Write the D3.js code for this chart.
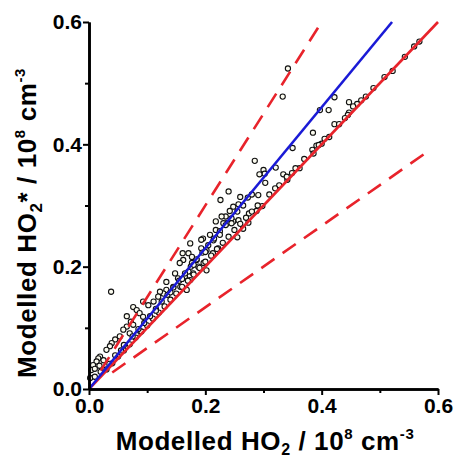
<!DOCTYPE html>
<html><head><meta charset="utf-8">
<script src="https://cdn.jsdelivr.net/npm/d3@7"></script>
<style>body{margin:0;background:#fff}svg{display:block}text{font-family:"Liberation Sans",Arial,sans-serif;font-weight:bold}</style>
</head><body>
<svg id="c" width="455" height="458"></svg>
<script>
// Data (units of 1e8 cm^-3)
const xTicks = [0.0, 0.2, 0.4, 0.6];
const yTicks = [0.0, 0.2, 0.4, 0.6];
const minorTicks = [0.1, 0.3, 0.5];
const pointsX = [0.568,0.559,0.543,0.522,0.508,0.489,0.476,0.468,0.461,0.454,0.447,0.445,0.440,
 0.447,0.422,0.422,0.412,0.397,0.385,0.413,0.400,0.391,0.384,0.386,0.350,0.349,0.342,0.333,0.334,0.321,0.327,0.362,0.341,
 0.285,0.300,0.302,0.293,0.303,0.291,0.298,0.288,0.275,0.274,0.265,0.255,
 0.240,0.226,0.260,0.273,0.257,0.248,0.242,0.235,0.228,0.237,0.231,0.248,0.257,0.218,0.218,0.208,0.214,0.196,0.193,
 0.193,0.202,0.213,0.222,
 0.174,0.171,0.177,0.185,0.177,0.188,0.197,0.202,0.161,0.162,0.156,
 0.148,0.153,0.165,0.174,0.179,0.171,0.133,0.145,0.157,0.168,0.133,0.128,0.122,0.119,0.111,0.102,0.093,0.076,0.082,0.087,0.093,
 0.065,0.072,0.076,0.065,0.059,0.070,0.082,0.053,0.045,0.039,0.036,0.030,0.019,0.016,0.013,0.007,0.004,0.002,0.025,0.018,0.010,
 0.038,
 0.030,0.040,0.050,0.060,0.070,0.080,0.090,0.100,0.110,0.120,0.130,0.140,0.150,0.160,0.170,0.180,0.190,0.200,0.210,0.220,0.230,0.240,0.250,0.260,0.270,0.280,0.290,0.310,0.320,0.340,0.355,0.370,0.395,0.405,0.430,
 0.035,0.055,0.075,0.095,0.105,0.115,0.125,0.135,0.145,0.155,0.165,0.175,0.185,0.195,0.205,0.215,0.225,0.235,0.245,0.255,0.265,0.280,
 0.010,0.020,0.045,0.060,0.085,0.115,0.140,0.160,0.180,0.200,0.225,0.245];
const pointsY = [0.568,0.560,0.543,0.520,0.510,0.492,0.478,0.472,0.466,0.462,0.452,0.448,0.443,
 0.469,0.477,0.433,0.456,0.456,0.419,0.412,0.401,0.398,0.391,0.385,0.394,0.353,0.524,0.478,0.351,0.362,0.333,0.361,0.342,
 0.373,0.358,0.352,0.351,0.337,0.317,0.299,0.291,0.287,0.272,0.262,0.248,
 0.323,0.309,0.314,0.313,0.302,0.298,0.291,0.282,0.282,0.271,0.271,0.274,0.276,0.274,0.260,0.252,0.243,0.246,0.244,
 0.230,0.227,0.222,0.230,
 0.238,0.222,0.216,0.211,0.206,0.200,0.206,0.194,0.222,0.211,0.206,
 0.189,0.181,0.184,0.178,0.189,0.192,0.175,0.167,0.167,0.162,0.162,0.156,0.159,0.151,0.143,0.137,0.143,0.134,0.129,0.124,0.118,
 0.119,0.110,0.105,0.102,0.097,0.091,0.088,0.086,0.081,0.075,0.070,0.064,0.053,0.050,0.045,0.039,0.031,0.018,0.047,0.038,0.033,
 0.159,
 0.032,0.042,0.053,0.063,0.073,0.084,0.094,0.104,0.115,0.125,0.135,0.146,0.156,0.167,0.177,0.187,0.198,0.208,0.218,0.229,0.239,0.249,0.260,0.270,0.280,0.290,0.300,0.318,0.328,0.347,0.361,0.376,0.399,0.409,0.433,
 0.041,0.063,0.086,0.108,0.119,0.131,0.143,0.154,0.166,0.177,0.189,0.200,0.212,0.223,0.235,0.246,0.258,0.268,0.279,0.290,0.300,0.318,
 0.020,0.028,0.055,0.072,0.098,0.128,0.158,0.180,0.203,0.224,0.252,0.271];
// Reference lines [x0, y0, x1, y1]
const lineOneToOne = [0, 0, 0.6, 0.6];
const lineFit = [0, 0, 0.521, 0.6];
const lineUpper = [0.02, 0.03, 0.4, 0.6];
const lineLower = [0.04, 0.027, 0.585, 0.39];

const svg = d3.select("#c");
const x = d3.scaleLinear().domain([0, 0.6]).range([89, 438]);
const y = d3.scaleLinear().domain([0, 0.6]).range([389, 22]);

// points
svg.append("g").selectAll("circle").data(pointsX.map((v,i)=>[v,pointsY[i]])).join("circle")
  .attr("cx", d=>x(d[0])).attr("cy", d=>y(d[1])).attr("r", 2.6)
  .attr("fill", "#fbfbef").attr("stroke", "#111").attr("stroke-width", 1.1);

function seg(l, color, dash){
  svg.append("line").attr("x1", x(l[0])).attr("y1", y(l[1])).attr("x2", x(l[2])).attr("y2", y(l[3]))
    .attr("stroke", color).attr("stroke-width", 2.6).attr("stroke-dasharray", dash || null);
}
seg(lineOneToOne, "#e8232b");
seg(lineUpper, "#e8232b", "16,10");
seg(lineLower, "#e8232b", "16,10");
seg(lineFit, "#1a1ad6");

// axes
const gx = svg.append("g").attr("transform", "translate(0,389)")
  .call(d3.axisBottom(x).tickValues(xTicks).tickFormat(d3.format(".1f")).tickSize(6).tickPadding(3).tickSizeOuter(0));
const gxm = svg.append("g").attr("transform", "translate(0,389)")
  .call(d3.axisBottom(x).tickValues(minorTicks).tickFormat("").tickSize(4).tickSizeOuter(0));
const gy = svg.append("g").attr("transform", "translate(89,0)")
  .call(d3.axisLeft(y).tickValues(yTicks).tickFormat(d3.format(".1f")).tickSize(6).tickPadding(1).tickSizeOuter(0));
const gym = svg.append("g").attr("transform", "translate(89,0)")
  .call(d3.axisLeft(y).tickValues(minorTicks).tickFormat("").tickSize(4).tickSizeOuter(0));
[gx,gxm,gy,gym].forEach(g=>{
  g.select(".domain").attr("stroke","#000").attr("stroke-width",2.6);
  g.selectAll(".tick line").attr("stroke","#000").attr("stroke-width",2);
  g.selectAll(".tick text").attr("font-size",21).attr("font-weight","bold").attr("font-family","Liberation Sans, Arial, sans-serif").attr("fill","#000");
});

// axis titles
const xt = svg.append("text").attr("x", 265).attr("y", 450).attr("text-anchor","middle").attr("font-size",26).attr("letter-spacing",0.6).attr("fill","#000");
xt.append("tspan").text("Modelled HO");
xt.append("tspan").attr("font-size",16).attr("dy",5).text("2");
xt.append("tspan").attr("dy",-5).text(" / 10");
xt.append("tspan").attr("font-size",15).attr("dy",-11).text("8");
xt.append("tspan").attr("dy",11).text(" cm");
xt.append("tspan").attr("font-size",15).attr("dy",-11).text("-3");

const yt = svg.append("text").attr("transform","translate(36,223) rotate(-90)").attr("text-anchor","middle").attr("font-size",26).attr("letter-spacing",0.6).attr("fill","#000");
yt.append("tspan").text("Modelled HO");
yt.append("tspan").attr("font-size",17).attr("dy",6).text("2");
yt.append("tspan").attr("dy",-6).text("*");
yt.append("tspan").text(" / 10");
yt.append("tspan").attr("font-size",15).attr("dy",-11).text("8");
yt.append("tspan").attr("dy",11).text(" cm");
yt.append("tspan").attr("font-size",15).attr("dy",-11).text("-3");
</script>
</body></html>
